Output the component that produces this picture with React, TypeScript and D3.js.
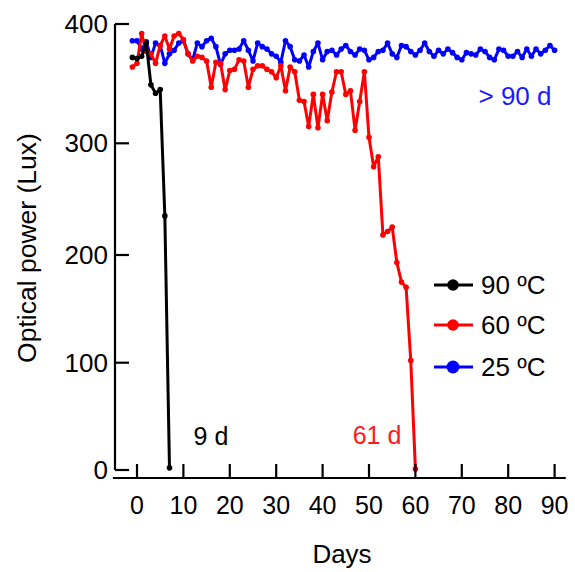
import React from "react";
import * as d3 from "d3";

const blackDays = [-1, 0, 1, 2, 3, 4, 5, 6, 7];
const blackVals = [372, 371, 373, 384, 349, 342, 345, 235, 2];

const redVals = [
  364, 367, 392, 377, 375, 367, 382, 390, 379, 390, 392, 387, 375, 369, 373, 372,
  369, 347, 368, 367, 345, 361, 362, 370, 369, 347, 362, 365, 365, 362, 360, 355,
  365, 344, 364, 360, 336, 335, 314, 341, 313, 341, 319, 343, 360, 360, 341, 344,
  311, 335, 360, 305, 279, 288, 218, 221, 225, 193, 175, 170, 102, 1,
];
const redDays = redVals.map((_, i) => i - 1);

const blueVals = [
  386, 386, 379, 385, 372, 384, 382, 367, 375, 378, 384, 386, 375, 370, 384, 381,
  386, 388, 381, 366, 375, 378, 378, 379, 386, 378, 369, 384, 381, 379, 375, 373,
  368, 386, 381, 370, 369, 374, 364, 377, 384, 370, 377, 378, 374, 379, 382, 377,
  374, 379, 378, 370, 372, 377, 378, 384, 375, 372, 382, 381, 377, 374, 378, 384,
  377, 373, 378, 375, 379, 376, 372, 370, 376, 375, 374, 379, 377, 372, 370, 379,
  378, 373, 373, 377, 372, 379, 373, 379, 375, 378, 382, 378,
];
const blueDays = blueVals.map((_, i) => i - 1);

const xTicks = [0, 10, 20, 30, 40, 50, 60, 70, 80, 90];
const yTicks = [0, 100, 200, 300, 400];

const seriesNames = ["90 ºC", "60 ºC", "25 ºC"];
const seriesColors = ["#000000", "#ff0000", "#0000ff"];

const FONT = "Arial, 'Liberation Sans', sans-serif";

export default function App() {
  const W = 575;
  const H = 572;
  const x = d3.scaleLinear().domain([0, 90]).range([137, 554.6]);
  const y = d3
    .scaleLinear()
    .domain([0, 100, 200, 300, 400])
    .range([470, 362.7, 255, 143.3, 24]);

  const line = d3
    .line<[number, number]>()
    .x((d) => x(d[0]))
    .y((d) => y(d[1]));

  const series = [
    { days: blackDays, vals: blackVals, color: seriesColors[0] },
    { days: redDays, vals: redVals, color: seriesColors[1] },
    { days: blueDays, vals: blueVals, color: seriesColors[2] },
  ];

  const xAxisY = 478;
  const yAxisX = 115;

  return (
    <svg
      width={W}
      height={H}
      style={{ position: "absolute", left: 0, top: 0, background: "#fff" }}
      fontFamily={FONT}
    >
      {[series[2], series[1], series[0]].map((s, si) => {
        const pts: [number, number][] = s.days.map((d, i) => [d, s.vals[i]]);
        return (
          <g key={si}>
            <path
              d={line(pts) || ""}
              fill="none"
              stroke={s.color}
              strokeWidth={3}
              strokeLinejoin="round"
            />
            {pts.map((p, i) => (
              <circle key={i} cx={x(p[0])} cy={y(p[1])} r={2.8} fill={s.color} />
            ))}
          </g>
        );
      })}

      {/* Y axis */}
      <line
        x1={yAxisX}
        x2={yAxisX}
        y1={y(400)}
        y2={y(0)}
        stroke="#000"
        strokeWidth={2.2}
      />
      {yTicks.map((t) => (
        <g key={t}>
          <line
            x1={yAxisX}
            x2={yAxisX + 14}
            y1={y(t)}
            y2={y(t)}
            stroke="#000"
            strokeWidth={2.2}
          />
          <text
            x={yAxisX - 7}
            y={y(t)}
            textAnchor="end"
            dominantBaseline="central"
            fontSize={26}
            fill="#000"
          >
            {t}
          </text>
        </g>
      ))}

      {/* X axis */}
      <line
        x1={x(-5.2)}
        x2={x(92.4)}
        y1={xAxisY}
        y2={xAxisY}
        stroke="#000"
        strokeWidth={2.2}
      />
      {xTicks.map((t) => (
        <g key={t}>
          <line
            x1={x(t)}
            x2={x(t)}
            y1={xAxisY}
            y2={xAxisY - 14}
            stroke="#000"
            strokeWidth={2.2}
          />
          <text
            x={x(t)}
            y={505}
            textAnchor="middle"
            dominantBaseline="central"
            fontSize={25}
            fill="#000"
          >
            {t}
          </text>
        </g>
      ))}

      {/* axis titles */}
      <text
        x={342}
        y={554}
        textAnchor="middle"
        dominantBaseline="central"
        fontSize={26}
        fill="#000"
      >
        Days
      </text>
      <text
        transform={`translate(27,248) rotate(-90)`}
        textAnchor="middle"
        dominantBaseline="central"
        fontSize={26.5}
        fill="#000"
      >
        Optical power (Lux)
      </text>

      {/* annotations */}
      <text x={515} y={96} textAnchor="middle" dominantBaseline="central" fontSize={26} fill="#1a1aff">
        &gt; 90 d
      </text>
      <text x={211} y={436} textAnchor="middle" dominantBaseline="central" fontSize={25} fill="#000">
        9 d
      </text>
      <text x={377} y={435} textAnchor="middle" dominantBaseline="central" fontSize={25} fill="#ff1a1a">
        61 d
      </text>

      {/* legend */}
      {seriesNames.map((n, i) => {
        const ly = [285, 325, 367][i];
        return (
          <g key={n}>
            <line x1={434} x2={473} y1={ly} y2={ly} stroke={seriesColors[i]} strokeWidth={3} />
            <circle cx={453} cy={ly} r={i === 2 ? 6.5 : 5.8} fill={seriesColors[i]} />
            <text x={481} y={ly} dominantBaseline="central" fontSize={26} fill="#000">
              {n}
            </text>
          </g>
        );
      })}
    </svg>
  );
}
